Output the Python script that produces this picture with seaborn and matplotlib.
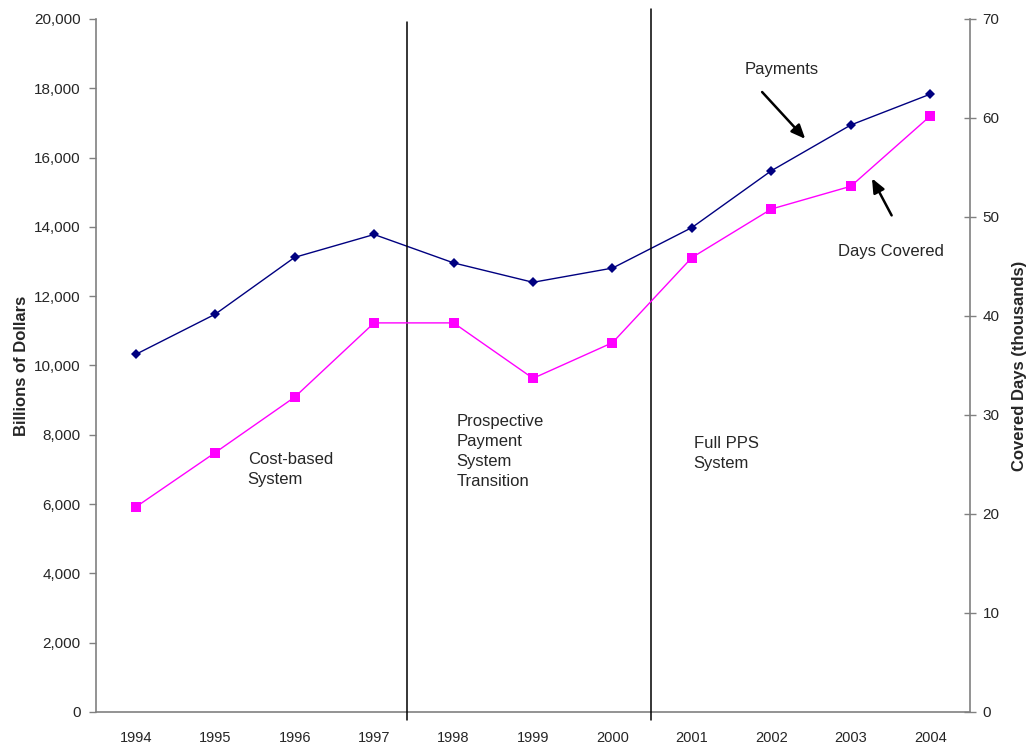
import numpy as np
import pandas as pd
import matplotlib
matplotlib.use("Agg")
import matplotlib.pyplot as plt
from matplotlib.ticker import FuncFormatter, MultipleLocator, FixedLocator
import seaborn as sns

# data
years = ["1994", "1995", "1996", "1997", "1998", "1999", "2000",
         "2001", "2002", "2003", "2004"]
payments = [10320, 11480, 13120, 13780, 12960, 12400, 12810,
            13980, 15620, 16940, 17830]
days_covered = [20.7, 26.2, 31.8, 39.3, 39.3, 33.7, 37.3,
                45.9, 50.8, 53.1, 60.2]
period_breaks = [3.42, 6.48]  # hand-drawn dividers between the periods

sns.set_theme(style="white")
plt.rcParams["font.family"] = ["Liberation Sans", "DejaVu Sans"]

df = pd.DataFrame({"pos": np.arange(len(years)), "year": years,
                   "payments": payments, "days": days_covered})

fig = plt.figure(figsize=(10.27, 7.46), dpi=100)
ax1 = fig.add_axes([0.0935, 0.0456, 0.851, 0.929])
ax2 = ax1.twinx()

sns.lineplot(data=df, x="pos", y="payments", ax=ax1, color="#000080",
             marker="D", markersize=5, linewidth=1, markeredgewidth=0)
sns.lineplot(data=df, x="pos", y="days", ax=ax2, color="#FF00FF",
             marker="s", markersize=6.5, linewidth=1, markeredgewidth=0)

ax1.set_xlim(-0.5, len(years) - 0.5)
ax1.set_ylim(0, 20000)
ax2.set_ylim(0, 70)

# category axis: ticks at boundaries, labels at centres
ax1.xaxis.set_major_locator(FixedLocator(np.arange(-0.5, len(years), 1)))
ax1.xaxis.set_major_formatter(FuncFormatter(lambda v, p: ""))
ax1.set_xticks(df["pos"], minor=True)
ax1.set_xticklabels(years, minor=True, fontsize=10.5)
ax1.tick_params(axis="x", which="minor", length=0, pad=14)
ax1.tick_params(axis="x", which="major", length=5, width=1, color="#808080",
                direction="out")

ax1.yaxis.set_major_locator(MultipleLocator(2000))
ax1.yaxis.set_major_formatter(FuncFormatter(lambda v, p: f"{int(v):,}"))
ax1.tick_params(axis="y", length=5, width=1, color="#808080",
                direction="out", labelsize=11, pad=6)
ax2.yaxis.set_major_locator(MultipleLocator(10))
ax2.tick_params(axis="y", length=8, width=1, color="#808080",
                direction="inout", labelsize=11, pad=5)

ax1.set_xlabel("")
ax1.set_ylabel("Billions of Dollars", fontsize=12, fontweight="bold",
               labelpad=4)
ax2.set_ylabel("Covered Days (thousands)", fontsize=12, fontweight="bold",
               labelpad=9)

for ax in (ax1, ax2):
    ax.spines["top"].set_visible(False)
    for s in ("left", "right", "bottom"):
        ax.spines[s].set_color("#808080")
        ax.spines[s].set_linewidth(1.2)
    ax.grid(False)
ax1.spines["right"].set_visible(False)
ax2.spines["left"].set_visible(False)
ax2.spines["bottom"].set_visible(False)

# period dividers
ax1.plot([period_breaks[0]] * 2, [-230, 19900], color="black", lw=1.1,
         clip_on=False, zorder=5)
ax1.plot([period_breaks[1]] * 2, [-230, 20300], color="black", lw=1.1,
         clip_on=False, zorder=5)

# period labels
txt = dict(fontsize=12, ha="left", va="top", linespacing=1.42)
ax1.text(1.41, 7490, "Cost-based\nSystem", **txt)
ax1.text(4.04, 8590, "Prospective\nPayment\nSystem\nTransition", **txt)
ax1.text(7.02, 7970, "Full PPS\nSystem", **txt)

# series call-outs
arrow = dict(arrowstyle="-|>,head_length=0.7,head_width=0.3", color="black",
             lw=1.8)
ax1.text(8.13, 18550, "Payments", fontsize=12, ha="center", va="center")
ax1.annotate("", xy=(8.45, 16480), xytext=(7.86, 17950), arrowprops=arrow)
ax1.text(9.5, 13280, "Days Covered", fontsize=12, ha="center", va="center")
ax1.annotate("", xy=(9.25, 15470), xytext=(9.53, 14260), arrowprops=arrow)

fig.savefig("out.png", dpi=100)
